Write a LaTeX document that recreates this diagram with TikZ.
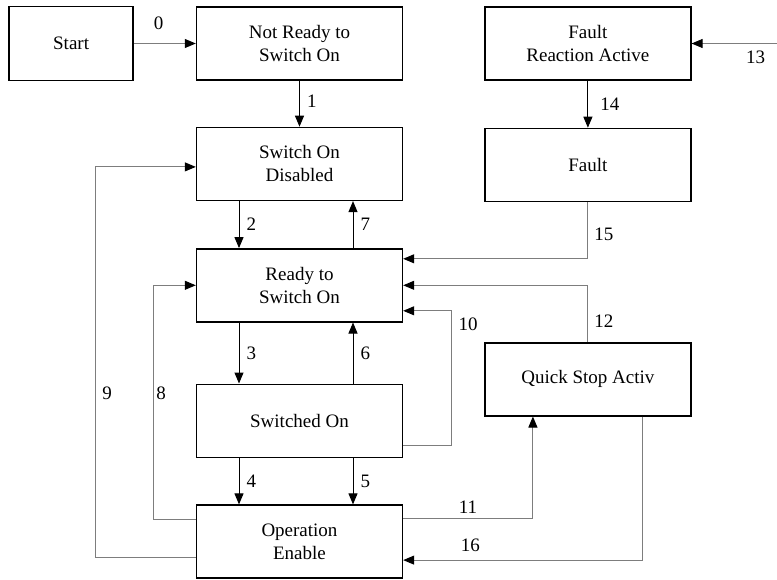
\documentclass[tikz,border=0pt]{standalone}
\usepackage{fontspec}
\setmainfont{Liberation Serif}
\usetikzlibrary{arrows.meta,positioning}
\definecolor{ink}{RGB}{0,0,0}
\definecolor{wire}{RGB}{125,125,125}
\tikzset{
  state/.style={draw=ink,line width=1.4pt,minimum width=206pt,minimum height=73pt,
    inner sep=2pt,align=center,font=\fontsize{19}{23}\selectfont},
  tr/.style={-{Triangle[length=11pt,width=9pt,color=ink]},line width=1pt,draw=ink},
  trg/.style={tr,draw=wire},
  num/.style={font=\fontsize{19}{23}\selectfont,inner sep=1pt},
}

\begin{document}
\begin{tikzpicture}[x=1pt,y=-1pt]
  \useasboundingbox (0,0) rectangle (777,579);
  \node[state] (nr) at (299.5,43.5) {Not Ready to\\Switch On};
  \node[state,minimum width=124pt,minimum height=74pt,left=62pt of nr] (start) {Start};
  \node[state,below=46pt of nr] (sod) {Switch On\\Disabled};
  \node[state,below=47pt of sod] (rts) {Ready to\\Switch On};
  \node[state,below=61pt of rts] (son) {Switched On};
  \node[state,below=46.5pt of son] (oe) {Operation\\Enable};
  \node[state,right=81pt of nr] (fra) {Fault\\Reaction Active};
  \node[state,below=47pt of fra] (flt) {Fault};
  \node[state,below=140pt of flt] (qsa) {Quick Stop Activ};
  \coordinate (ext) at (777,43.5);
  \draw[trg] (start) -- node[num,above=12pt,pos=0.4] (l0) {0} (nr);
  \draw[tr] (nr) -- node[num,right=6pt,pos=0.45] (l1) {1} (sod);
  \draw[tr] ([xshift=-60.5pt]sod.south) -- node[num,right=6pt] (l2) {2} ([xshift=-60.5pt]rts.north);
  \draw[tr] ([xshift=53.5pt]rts.north) -- node[num,right=6pt] (l7) {7} ([xshift=53.5pt]sod.south);
  \draw[tr] ([xshift=-60.5pt]rts.south) -- node[num,right=6pt] (l3) {3} ([xshift=-60.5pt]son.north);
  \draw[tr] ([xshift=53.5pt]son.north) -- node[num,right=6pt] (l6) {6} ([xshift=53.5pt]rts.south);
  \draw[tr] ([xshift=-60.5pt]son.south) -- node[num,right=6pt] (l4) {4} ([xshift=-60.5pt]oe.north);
  \draw[tr] ([xshift=53.5pt]son.south) -- node[num,right=6pt] (l5) {5} ([xshift=53.5pt]oe.north);
  \draw[trg] ([yshift=-15.5pt]oe.west) -- ++(-100,0)
    |- node[num,right=5pt,pos=0.21] (l9) {9} ([yshift=-3pt]sod.west);
  \draw[trg] ([yshift=22pt]oe.west) -- ++(-42,0)
    |- node[num,right=1pt,pos=0.27] (l8) {8} (rts.west);
  \draw[trg] ([yshift=-25pt]son.east) -- ++(48,0)
    |- node[num,right=6pt,pos=0.45] (l10) {10} ([yshift=-25.5pt]rts.east);
  \draw[trg] ([yshift=23.5pt]oe.east) -| node[num,above=3pt,pos=0.25] (l11) {11} ([xshift=-55pt]qsa.south);
  \draw[trg] ([xshift=55pt]qsa.south) |- node[num,above=7pt,pos=0.86] (l16) {16} ([yshift=-18.5pt]oe.east);
  \draw[trg] (qsa.north) |- node[num,right=5pt,pos=0.18] (l12) {12} (rts.east);
  \draw[trg] (flt.south) |- node[num,right=5pt,pos=0.28] (l15) {15} ([yshift=26.5pt]rts.east);
  \draw[trg] (ext) -- node[num,below=6pt,pos=0.25] (l13) {13} (fra.east);
  \draw[tr] (fra) -- node[num,right=11pt] (l14) {14} (flt);
\end{tikzpicture}
\end{document}
